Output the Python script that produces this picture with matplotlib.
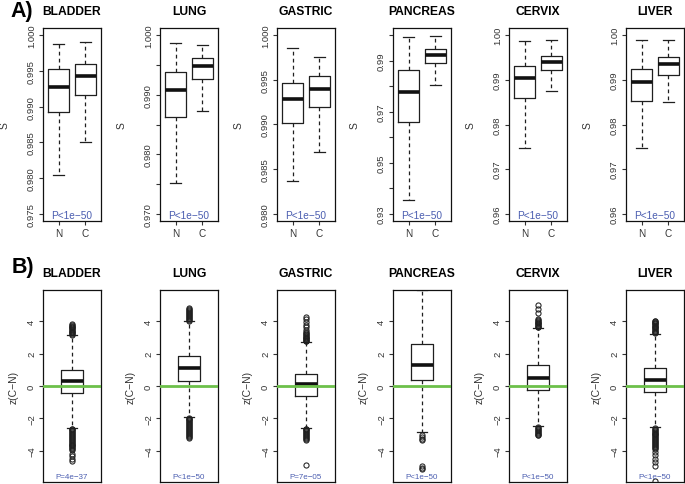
import matplotlib
matplotlib.use("Agg")
import matplotlib.pyplot as plt
import numpy as np

plt.rcParams['font.family'] = ['Liberation Sans', 'DejaVu Sans']

# ---------------- data ----------------
cancers = ["BLADDER", "LUNG", "GASTRIC", "PANCREAS", "CERVIX", "LIVER"]
groups = ["N", "C"]

# Panel A: S values, N (normal) and C (cancer) box statistics
n_low  = [0.9804, 0.9751, 0.9837, 0.9355, 0.9747, 0.9747]
n_q1   = [0.9892, 0.9863, 0.9902, 0.9661, 0.9859, 0.9853]
n_med  = [0.9928, 0.9908, 0.9929, 0.9778, 0.9905, 0.9896]
n_q3   = [0.9952, 0.9938, 0.9946, 0.9863, 0.9932, 0.9924]
n_high = [0.9988, 0.9987, 0.9986, 0.9992, 0.9986, 0.9990]

c_low  = [0.9851, 0.9873, 0.9869, 0.9804, 0.9876, 0.9851]
c_q1   = [0.9916, 0.9926, 0.9920, 0.9890, 0.9922, 0.9911]
c_med  = [0.9943, 0.9948, 0.9940, 0.9924, 0.9941, 0.9935]
c_q3   = [0.9960, 0.9961, 0.9954, 0.9947, 0.9954, 0.9952]
c_high = [0.9990, 0.9984, 0.9976, 0.9995, 0.9990, 0.9990]

s_axis_low  = [0.975, 0.970, 0.980, 0.930, 0.960, 0.960]
s_axis_high = [1.000, 1.000, 1.000, 1.000, 1.000, 1.000]
s_tick_step = [0.005, 0.005, 0.005, 0.01, 0.01, 0.01]
s_label_every = [1, 2, 1, 2, 1, 1]
s_decimals = [3, 3, 3, 2, 2, 2]
pvals_a = ["P<1e\u221250"] * 6

# Panel B: z(C-N) box statistics
z_low  = [-2.58, -1.93, -2.59, -2.85, -2.50, -2.54]
z_q1   = [-0.45, 0.32, -0.63, 0.38, -0.24, -0.38]
z_med  = [0.28, 1.13, 0.13, 1.31, 0.50, 0.40]
z_q3   = [0.97, 1.85, 0.75, 2.61, 1.27, 1.09]
z_high = [3.13, 4.00, 2.72, 5.95, 3.57, 3.22]

z_out_bladder = [3.17, 3.22, 3.27, 3.32, 3.37, 3.42, 3.47, 3.52, 3.57, 3.62, 3.67, 3.72, 3.77, 3.81,
                 -2.63, -2.68, -2.73, -2.78, -2.84, -2.90, -2.96, -3.02, -3.08, -3.14, -3.20, -3.26,
                 -3.32, -3.38, -3.44, -3.50, -3.56, -3.62, -3.68, -3.74, -3.80, -3.86, -3.92, -3.98,
                 -4.20, -4.35, -4.50, -4.65]
z_out_lung = [4.05, 4.10, 4.15, 4.20, 4.26, 4.32, 4.38, 4.44, 4.50, 4.56, 4.62, 4.68, 4.74, 4.80,
              -1.97, -2.02, -2.07, -2.12, -2.18, -2.24, -2.30, -2.36, -2.42, -2.48, -2.54, -2.60,
              -2.66, -2.72, -2.78, -2.84, -2.90, -2.96, -3.02, -3.08, -3.14, -3.19]
z_out_gastric = [2.76, 2.80, 2.85, 2.90, 2.95, 3.00, 3.05, 3.10, 3.15, 3.20, 3.26, 3.32,
                 3.48, 3.64, 3.80, 3.96, 4.12, 4.27,
                 -2.63, -2.68, -2.73, -2.78, -2.84, -2.90, -2.96, -3.02, -3.08, -3.14, -3.20,
                 -3.26, -3.33, -4.90]
z_out_pancreas = [-3.05, -3.15, -3.25, -3.35, -4.95, -5.05, -5.15]
z_out_cervix = [3.62, 3.67, 3.72, 3.77, 3.82, 3.87, 3.92, 3.97, 4.02, 4.08, 4.14, 4.50, 4.75, 5.00,
                -2.55, -2.60, -2.66, -2.72, -2.78, -2.84, -2.90, -2.96, -3.02, -3.06]
z_out_liver = [3.27, 3.32, 3.37, 3.42, 3.47, 3.52, 3.57, 3.62, 3.67, 3.72, 3.77, 3.82, 3.87, 3.92,
               3.97, 4.02, 4.05,
               -2.59, -2.64, -2.70, -2.76, -2.82, -2.88, -2.94, -3.00, -3.06, -3.12, -3.18, -3.24,
               -3.30, -3.36, -3.42, -3.48, -3.54, -3.60, -3.66, -3.72, -3.78, -3.84, -3.90,
               -4.08, -4.28, -4.50, -4.70, -4.95, -5.90]
z_outliers = [z_out_bladder, z_out_lung, z_out_gastric, z_out_pancreas, z_out_cervix, z_out_liver]
z_ticks = [-4, -2, 0, 2, 4]
z_axis_lim = [-5.94, 5.94]
pvals_b = ["P=4e\u221237", "P<1e\u221250", "P=7e\u221205", "P<1e\u221250", "P<1e\u221250", "P<1e\u221250"]

# ---------------- style ----------------
W, H = 685, 485
fig = plt.figure(figsize=(W / 100, H / 100), dpi=100)

lefts_px = [43, 160, 277, 393, 509, 626]
pw = 58
edge = '#1f1f1f'
pcol = '#4a5db0'
green = '#6cc04a'
tickcol = '#333333'

boxprops = dict(color=edge, linewidth=0.9)
whiskerprops = dict(color=edge, linewidth=0.9, linestyle=(0, (3.0, 2.6)))
capprops = dict(color=edge, linewidth=0.9)
medianprops = dict(color='#111111', linewidth=2.6, solid_capstyle='butt')
flierprops = dict(marker='o', markerfacecolor='none', markeredgecolor=edge,
                  markersize=3.7, markeredgewidth=0.75, linestyle='none')


def style_axes(ax):
    for sp in ax.spines.values():
        sp.set_linewidth(0.9)
        sp.set_color('#111111')


# ---------------- Panel A ----------------
for i, name in enumerate(cancers):
    ax = fig.add_axes([lefts_px[i] / W, 1 - 222 / H, pw / W, 193 / H])
    stats = [
        dict(whislo=n_low[i], q1=n_q1[i], med=n_med[i], q3=n_q3[i], whishi=n_high[i],
             fliers=[], label=groups[0]),
        dict(whislo=c_low[i], q1=c_q1[i], med=c_med[i], q3=c_q3[i], whishi=c_high[i],
             fliers=[], label=groups[1]),
    ]
    ax.bxp(stats, positions=[1, 2], widths=0.8, showfliers=False,
           boxprops=boxprops, whiskerprops=whiskerprops, capprops=capprops,
           medianprops=medianprops)
    ax.set_xlim(0.42, 2.58)
    lo, hi = s_axis_low[i], s_axis_high[i]
    r = hi - lo
    ax.set_ylim(lo - 0.04 * r, hi + 0.04 * r)
    step = s_tick_step[i]
    nt = int(round(r / step))
    ticks = [lo + k * step for k in range(nt + 1)]
    labels = [(f"{t:.{s_decimals[i]}f}" if k % s_label_every[i] == 0 else "")
              for k, t in enumerate(ticks)]
    ax.set_yticks(ticks)
    ax.set_yticklabels(labels)
    ax.set_xticks([1, 2])
    ax.set_xticklabels(groups)
    ax.tick_params(axis='y', length=3, width=0.8, pad=2, labelsize=6.8,
                   labelrotation=90, colors=tickcol)
    ax.tick_params(axis='x', length=3, width=0.8, pad=2, labelsize=7.2, colors=tickcol)
    for lab in ax.get_yticklabels():
        lab.set_va('center')
    ax.set_ylabel("S", fontsize=7.5, color=tickcol, va='center')
    ax.yaxis.set_label_coords(-38.5 / pw, 0.5)
    ax.text(0.5, 0.018, pvals_a[i], transform=ax.transAxes, ha='center', va='baseline',
            fontsize=7.3, color=pcol)
    ax.text(0.5, 1.088, name, transform=ax.transAxes, ha='center', va='center',
            fontsize=8.7, fontweight='bold')
    style_axes(ax)

# ---------------- Panel B ----------------
for i, name in enumerate(cancers):
    ax = fig.add_axes([lefts_px[i] / W, 1 - 483 / H, pw / W, 192 / H])
    stats = [dict(whislo=z_low[i], q1=z_q1[i], med=z_med[i], q3=z_q3[i], whishi=z_high[i],
                  fliers=z_outliers[i], label="")]
    ax.bxp(stats, positions=[1], widths=0.4, showfliers=True,
           boxprops=boxprops, whiskerprops=whiskerprops, capprops=capprops,
           medianprops=medianprops, flierprops=flierprops)
    ax.axhline(0, color=green, linewidth=2.0, zorder=5)
    ax.set_xlim(0.46, 1.54)
    ax.set_ylim(*z_axis_lim)
    ax.set_yticks(z_ticks)
    ax.set_xticks([])
    ax.tick_params(axis='y', length=3, width=0.8, pad=2, labelsize=6.8,
                   labelrotation=90, colors=tickcol)
    for lab in ax.get_yticklabels():
        lab.set_va('center')
    ax.set_ylabel("z(C\u2212N)", fontsize=7.5, color=tickcol, va='center')
    ax.yaxis.set_label_coords(-29.5 / pw, 0.5)
    ax.text(0.5, 0.02, pvals_b[i], transform=ax.transAxes, ha='center', va='baseline',
            fontsize=5.8, color=pcol)
    ax.text(0.5, 1.089, name, transform=ax.transAxes, ha='center', va='center',
            fontsize=8.7, fontweight='bold')
    style_axes(ax)

fig.text(10 / W, 1 - 12 / H, "A)", fontsize=15.5, fontweight='bold', ha='left', va='center')
fig.text(12 / W, 1 - 268 / H, "B)", fontsize=15.5, fontweight='bold', ha='left', va='center')

fig.savefig("out.png", dpi=100)
